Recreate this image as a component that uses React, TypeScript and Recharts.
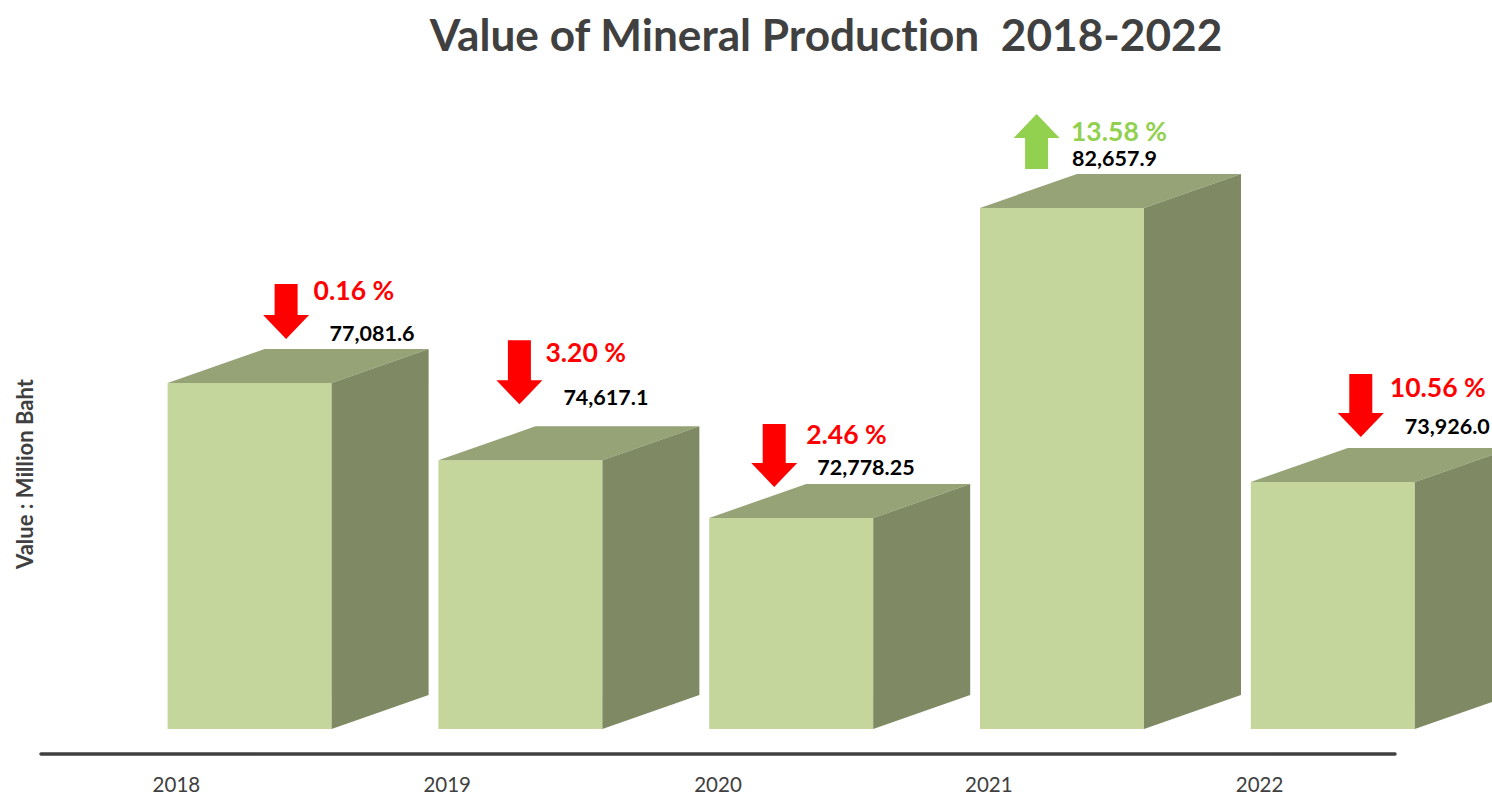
import React from 'react';
import { BarChart, Bar, XAxis, YAxis } from 'recharts';

const years = ['2018', '2019', '2020', '2021', '2022'];
const productionValues = [77081.6, 74617.1, 72778.25, 82657.9, 73926.0];
const valueLabels = ['77,081.6', '74,617.1', '72,778.25', '82,657.9', '73,926.0'];
const changeLabels = ['0.16 %', '3.20 %', '2.46 %', '13.58 %', '10.56 %'];
const changeUp = [false, false, false, true, false];

const chartData = years.map((year, i) => ({ year, value: productionValues[i] }));

// hand placed notes, relative to the top left corner of each bar's front face
const noteOffsets = [
  { arrowX: 118.5, arrowY: -99, arrowLen: 55, pctX: 146, pctY: -92.5, valX: 162, valY: -50 },
  { arrowX: 81, arrowY: -120, arrowLen: 64, pctX: 107, pctY: -108.5, valX: 125, valY: -63 },
  { arrowX: 65, arrowY: -94, arrowLen: 63, pctX: 97, pctY: -84, valX: 108, valY: -51 },
  { arrowX: 56.6, arrowY: -94, arrowLen: 55, pctX: 91, pctY: -76.5, valX: 92, valY: -50 },
  { arrowX: 110, arrowY: -108, arrowLen: 63, pctX: 139, pctY: -94.5, valX: 154, valY: -56 },
];

const FONT = 'Lato, sans-serif';
const DARK = '#404040';
const RED = '#FF0000';
const GREEN = '#92D050';
const FRONT = '#C4D69B';
const TOP = '#95A376';
const SIDE = '#7F8A64';

const BAR_SHIFT = 73.6; // bars sit right of their tick in the original
const FLOOR_GAP = 25; // bars float above the axis line
const DEPTH_X = 97;
const DEPTH_Y = 34;

const arrowPoints = (cx: number, top: number, len: number, up: boolean) => {
  const shaft = 11.5;
  const head = 23;
  const headLen = 24;
  const bottom = top + len;
  if (up) {
    return [
      [cx, top], [cx + head, top + headLen], [cx + shaft, top + headLen], [cx + shaft, bottom],
      [cx - shaft, bottom], [cx - shaft, top + headLen], [cx - head, top + headLen],
    ].join(' ');
  }
  return [
    [cx, bottom], [cx + head, bottom - headLen], [cx + shaft, bottom - headLen], [cx + shaft, top],
    [cx - shaft, top], [cx - shaft, bottom - headLen], [cx - head, bottom - headLen],
  ].join(' ');
};

const Box3D = (props: any) => {
  const { x, y, width, height, index } = props;
  const left = x + BAR_SHIFT;
  const right = left + width;
  const bottom = y + height - FLOOR_GAP;
  const note = noteOffsets[index];
  const up = changeUp[index];
  const colour = up ? GREEN : RED;
  return (
    <g>
      <polygon points={`${left},${y} ${right},${y} ${right},${bottom} ${left},${bottom}`} fill={FRONT} />
      <polygon
        points={`${left},${y} ${left + DEPTH_X},${y - DEPTH_Y} ${right + DEPTH_X},${y - DEPTH_Y} ${right},${y}`}
        fill={TOP}
      />
      <polygon
        points={`${right},${y} ${right + DEPTH_X},${y - DEPTH_Y} ${right + DEPTH_X},${bottom - DEPTH_Y} ${right},${bottom}`}
        fill={SIDE}
      />
      <polygon points={arrowPoints(left + note.arrowX, y + note.arrowY, note.arrowLen, up)} fill={colour} />
      <text
        x={left + note.pctX}
        y={y + note.pctY}
        dominantBaseline="central"
        fill={colour}
        fontFamily={FONT}
        fontWeight={700}
        fontSize={26.5}
      >
        {changeLabels[index]}
      </text>
      <text
        x={left + note.valX}
        y={y + note.valY}
        dominantBaseline="central"
        fill="#000000"
        fontFamily={FONT}
        fontWeight={700}
        fontSize={21.5}
      >
        {valueLabels[index]}
      </text>
    </g>
  );
};

export default function App() {
  return (
    <div style={{ position: 'absolute', left: 0, top: 0, width: 1492, height: 796, background: '#fff' }}>
      <BarChart
        width={1492}
        height={796}
        data={chartData}
        margin={{ top: 134, right: 97, bottom: 0, left: 41 }}
      >
        <text
          x={826}
          y={33}
          textAnchor="middle"
          dominantBaseline="central"
          fill={DARK}
          fontFamily={FONT}
          fontWeight={700}
          fontSize={44.2}
          style={{ whiteSpace: 'pre', fontVariantLigatures: 'none' }}
        >
          Value of Mineral Production  2018-2022
        </text>
        <text
          transform="translate(24,474) rotate(-90)"
          textAnchor="middle"
          dominantBaseline="central"
          fill={DARK}
          fontFamily={FONT}
          fontWeight={700}
          fontSize={22}
        >
          Value : Million Baht
        </text>
        <XAxis
          dataKey="year"
          height={42}
          interval={0}
          tickLine={false}
          tickMargin={17}
          axisLine={{ stroke: DARK, strokeWidth: 3.5, strokeLinecap: 'round' }}
          tick={{ fill: DARK, fontSize: 20.5, fontFamily: FONT }}
        />
        <YAxis hide domain={[65258, 85015]} />
        <Bar dataKey="value" barSize={164} shape={<Box3D />} isAnimationActive={false} />
      </BarChart>
    </div>
  );
}
